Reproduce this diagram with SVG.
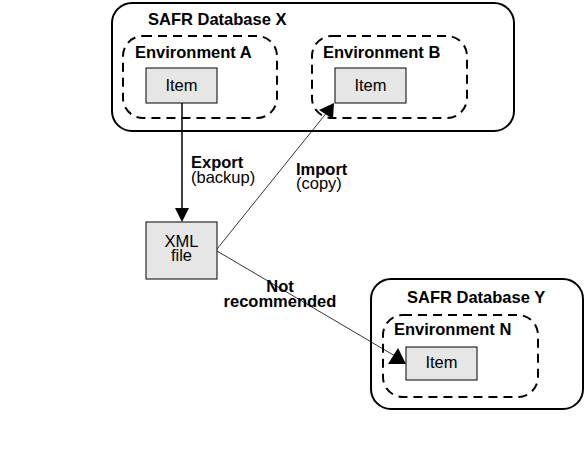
<svg xmlns="http://www.w3.org/2000/svg" width="586" height="463" viewBox="0 0 586 463">
<style>
.db{fill:#fff;stroke:#000;stroke-width:2}
.env{fill:none;stroke:#000;stroke-width:2;stroke-dasharray:9 6}
.item{fill:#e6e6e6;stroke:#000;stroke-width:1}
.t{font-family:"Liberation Sans",Arial,sans-serif;font-size:16.5px;fill:#000}
.b{font-weight:bold}
.c{text-anchor:middle}
.ln{stroke:#000;fill:none}
.ah{fill:#000}
</style>
<rect width="586" height="463" fill="#fff"/>
<g id="dbX">
<rect class="db" x="112" y="3" width="402" height="128" rx="20"/>
<text class="t b" x="148" y="25">SAFR Database X</text>
</g>
<g id="envA">
<rect class="env" x="123" y="36" width="154" height="82" rx="20"/>
<text class="t b" x="135" y="58">Environment A</text>
</g>
<g id="itemA">
<rect class="item" x="146" y="68" width="71" height="35"/>
<text class="t c" x="181.5" y="91">Item</text>
</g>
<g id="envB">
<rect class="env" x="312" y="36" width="155" height="82" rx="20"/>
<text class="t b" x="323" y="58">Environment B</text>
</g>
<g id="itemB">
<rect class="item" x="335" y="68" width="71" height="35"/>
<text class="t c" x="370.5" y="91">Item</text>
</g>
<g id="xml">
<rect class="item" x="146" y="222" width="71" height="57"/>
<text class="t c" x="181.5" y="247">XML</text>
<text class="t c" x="181.5" y="261">file</text>
</g>
<g id="dbY">
<rect class="db" x="371" y="279" width="212" height="130" rx="20"/>
<text class="t b" x="407" y="303">SAFR Database Y</text>
</g>
<g id="envN">
<rect class="env" x="383" y="315" width="155" height="82" rx="20"/>
<text class="t b" x="394" y="335">Environment N</text>
</g>
<g id="itemN">
<rect class="item" x="406" y="347" width="71" height="33"/>
<text class="t c" x="441.5" y="368">Item</text>
</g>
<g id="connectors">
<line class="ln" x1="182" y1="103" x2="182" y2="210" stroke-width="1.5"/>
<polygon class="ah" points="175,208 189,208 182,222"/>
<line class="ln" x1="217" y1="249" x2="328" y2="111" stroke-width="0.8"/>
<polygon class="ah" points="319,110 334,103 333,119"/>
<line class="ln" x1="217" y1="251" x2="395" y2="356" stroke-width="0.8"/>
<polygon class="ah" points="388,364 398,348 406,364"/>
<text class="t b" x="191" y="168">Export</text>
<text class="t" x="191" y="183">(backup)</text>
<text class="t b" x="296" y="175">Import</text>
<text class="t" x="296" y="189">(copy)</text>
<text class="t b c" x="280" y="292">Not</text>
<text class="t b c" x="280" y="307">recommended</text>
</g>
</svg>
